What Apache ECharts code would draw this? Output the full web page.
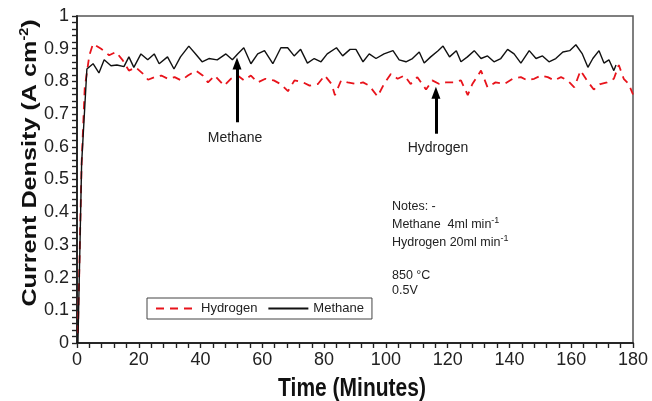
<!DOCTYPE html>
<html>
<head>
<meta charset="utf-8">
<script src="https://cdn.jsdelivr.net/npm/echarts@6/dist/echarts.min.js"></script>
<style>
html,body{margin:0;padding:0;background:#fff;}
#c{width:652px;height:401px;}
</style>
</head>
<body>
<div id="c"></div>
<script>
var methaneTime = [0.3,1.5,3.2,5.2,7.1,8.8,11,12.9,15.2,16.8,18.4,20.7,22.9,25,26.6,29.3,31.4,33.5,36.2,38.4,40.5,42.7,45.4,48.2,50.3,52,54,56.3,58.5,60.7,63.4,66,68.2,70.3,72.4,74.6,76.8,79,81,84,86,88.4,90.3,92.6,94.6,96.8,99.4,102.3,104.3,106.5,108.6,110.8,112.4,114.5,116.9,118.5,120.6,122.8,124.3,126.4,128.6,130.8,132.9,135,137.2,139.4,141.5,143.7,146.4,148.6,150.7,152.8,155,157.3,159.5,161.5,163.6,165.4,167,169,170.6,172.2,173.8,174.5];
var methaneValue = [0.0,0.55,0.838,0.854,0.826,0.866,0.848,0.85,0.845,0.875,0.843,0.884,0.866,0.884,0.854,0.875,0.838,0.875,0.908,0.884,0.86,0.87,0.866,0.884,0.866,0.884,0.903,0.854,0.884,0.894,0.854,0.903,0.903,0.878,0.898,0.856,0.87,0.86,0.884,0.903,0.878,0.898,0.898,0.86,0.884,0.87,0.884,0.894,0.866,0.86,0.87,0.89,0.856,0.875,0.894,0.908,0.875,0.894,0.86,0.875,0.894,0.87,0.878,0.86,0.87,0.898,0.884,0.856,0.894,0.87,0.878,0.86,0.87,0.89,0.894,0.912,0.884,0.843,0.87,0.894,0.856,0.866,0.833,0.85];
var hydrogenTime = [0.3,1.5,2.5,4,5.2,7.8,10.4,12.6,14.7,16.8,19,21.4,23,25.1,27.3,29.4,31.6,33.8,35.9,38.5,40.7,42.4,44.6,47.6,49.8,52,54.1,56.3,58.5,61,63.7,65.9,68.3,70.4,73.2,75.3,78,80.2,82.4,83.5,85.5,87.6,90.3,92.6,94.6,97.3,99.4,101.6,103.8,106,108,110.2,113,115,117.3,119.4,122,124.3,126.5,128,130.8,132.9,135.5,138.3,141,143.7,145.8,148,150.2,152.4,154.5,156.7,158.8,161,163,165.1,167.3,169.4,171.6,173.8,175.4,177,178.6,180];
var hydrogenValue = [0.03,0.55,0.78,0.88,0.915,0.9,0.88,0.89,0.866,0.833,0.843,0.823,0.805,0.813,0.818,0.808,0.813,0.803,0.818,0.833,0.818,0.797,0.818,0.787,0.808,0.818,0.803,0.818,0.797,0.808,0.803,0.792,0.77,0.803,0.797,0.787,0.792,0.818,0.792,0.758,0.803,0.797,0.792,0.797,0.787,0.754,0.792,0.823,0.808,0.818,0.792,0.813,0.775,0.803,0.792,0.797,0.797,0.803,0.758,0.792,0.833,0.782,0.797,0.792,0.808,0.813,0.803,0.808,0.818,0.813,0.803,0.813,0.803,0.782,0.833,0.803,0.775,0.792,0.797,0.808,0.85,0.808,0.792,0.76];
var xTicks = {min:0, max:180, interval:20};
var yTicks = {min:0, max:1, interval:0.1};
var arrowMethane = [51.8, 0.675, 0.855];
var arrowHydrogen = [116.2, 0.64, 0.765];

function pairs(t, v){ return t.map(function(x,i){ return [x, v[i]]; }); }
var FONT = 'Liberation Sans, Arial, sans-serif';
var chart = echarts.init(document.getElementById('c'));
var tickCommon = function(inside){
  return {
    axisLine:{show:true, lineStyle:{color:'#222', width:1.5}},
    axisTick:{show:true, inside:inside, length:5, lineStyle:{color:'#222', width:1.2}},
    minorTick:{show:true, splitNumber:5, length:5, lineStyle:{color:'#222', width:1.2}},
    splitLine:{show:false}
  };
};
var xa = function(inside, main){
  var o = tickCommon(inside);
  o.type='value'; o.min=xTicks.min; o.max=xTicks.max; o.interval=xTicks.interval;
  o.axisLabel = main ? {show:true, fontSize:18, color:'#222', fontFamily:FONT, margin:8} : {show:false};
  return o;
};
var ya = function(inside, main){
  var o = tickCommon(inside);
  o.type='value'; o.min=yTicks.min; o.max=yTicks.max; o.interval=yTicks.interval;
  o.axisLabel = main ? {show:true, fontSize:18, color:'#222', fontFamily:FONT, margin:8,
    formatter:function(v){ return (Math.round(v*10)/10).toString(); }} : {show:false};
  return o;
};
var option = {
  backgroundColor:'#fff',
  animation:false,
  grid:{left:77, right:19, top:16, bottom:58, show:true, borderColor:'#555', borderWidth:1.5},
  xAxis:[xa(false,true), xa(true,false)],
  yAxis:[ya(false,true), ya(true,false)],
  legend:{
    left:147, top:298, orient:'horizontal',
    data:['Hydrogen','Methane'],
    itemWidth:40, itemHeight:10, itemGap:10,
    padding:[4,8,4,8],
    borderColor:'#444', borderWidth:1, backgroundColor:'#fff',
    itemStyle:{opacity:0},
    textStyle:{fontSize:13, color:'#222', fontFamily:FONT}
  },
  graphic:[
    {type:'text', x:352, y:389, scaleY:1.2, style:{text:'Time (Minutes)', font:'bold 21px '+FONT, fill:'#111', align:'center', verticalAlign:'middle'}},
    {type:'text', x:30, y:163, rotation:Math.PI/2, scaleX:1.2, style:{
      text:'Current Density (A cm{sup|-2})', font:'bold 21px '+FONT, fill:'#111', align:'center', verticalAlign:'middle',
      rich:{sup:{fontSize:12, fontWeight:'bold', fill:'#111', fontFamily:FONT, verticalAlign:'top', padding:[0,0,10,0]}}}},
    {type:'text', x:235, y:138, style:{text:'Methane', font:'14px '+FONT, fill:'#222', align:'center', verticalAlign:'middle'}},
    {type:'text', x:438, y:148, style:{text:'Hydrogen', font:'14px '+FONT, fill:'#222', align:'center', verticalAlign:'middle'}},
    {type:'text', x:392, y:198, style:{
      text:'Notes: -\nMethane  4ml min{s|-1}\nHydrogen 20ml min{s|-1}',
      font:'12.5px '+FONT, fill:'#222', lineHeight:18, verticalAlign:'top',
      rich:{s:{fontSize:9, fill:'#222', fontFamily:FONT, verticalAlign:'top', padding:[0,0,6,0]}}
    }},
    {type:'text', x:392, y:268, style:{
      text:'850 °C\n0.5V',
      font:'12.5px '+FONT, fill:'#222', lineHeight:15, verticalAlign:'top'
    }}
  ],
  series:[
    {
      name:'Hydrogen', type:'line', xAxisIndex:0, yAxisIndex:0,
      data:pairs(hydrogenTime, hydrogenValue),
      symbol:'none', smooth:false,
      lineStyle:{color:'#e8131b', width:1.8, type:[8,6]},
      itemStyle:{color:'#e8131b'},
      z:2
    },
    {
      name:'Methane', type:'line', xAxisIndex:0, yAxisIndex:0,
      data:pairs(methaneTime, methaneValue),
      symbol:'none', smooth:false,
      lineStyle:{color:'#111', width:1.4},
      itemStyle:{color:'#111'},
      z:3,
      markLine:{
        silent:true, symbol:['none','triangle'], symbolSize:[9,12], label:{show:false},
        lineStyle:{color:'#000', width:3, type:'solid'},
        data:[
          [{coord:[arrowMethane[0], arrowMethane[1]]},{coord:[arrowMethane[0], arrowMethane[2]]}],
          [{coord:[arrowHydrogen[0], arrowHydrogen[1]]},{coord:[arrowHydrogen[0], arrowHydrogen[2]]}]
        ]
      }
    }
  ]
};
chart.setOption(option);
</script>
</body>
</html>
